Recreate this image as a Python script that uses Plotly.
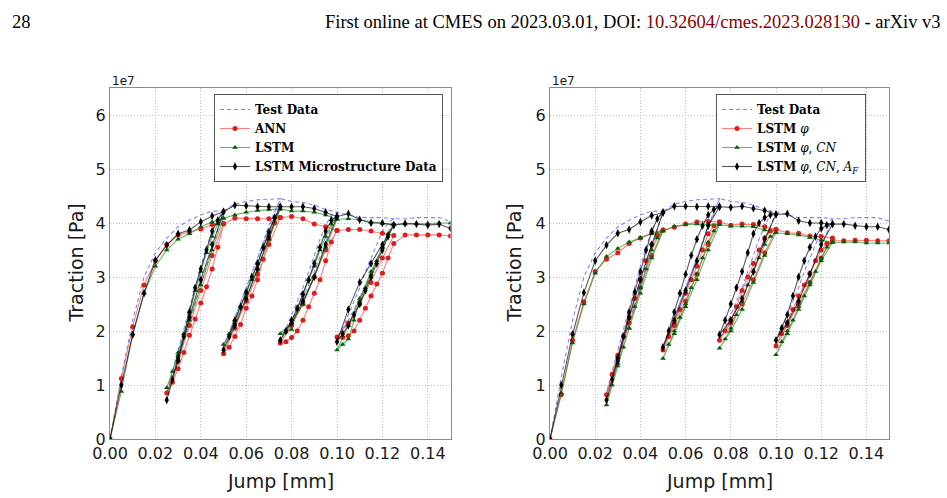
import plotly.graph_objects as go

# Jump [mm] sequence (load / unload / reload cycles), shared by all series
jump_mm = [
    0.0, 0.005, 0.01, 0.015, 0.02, 0.025, 0.03, 0.035, 0.04, 0.045, 0.05,
    0.045, 0.04, 0.035, 0.03, 0.025,
    0.0275, 0.03, 0.0325, 0.035, 0.0375, 0.04, 0.0425, 0.045, 0.0475, 0.05,
    0.055, 0.06, 0.065, 0.07, 0.075,
    0.07, 0.065, 0.06, 0.055, 0.05,
    0.0525, 0.055, 0.0575, 0.06, 0.0625, 0.065, 0.0675, 0.07, 0.0725, 0.075,
    0.08, 0.085, 0.09, 0.095, 0.1,
    0.095, 0.09, 0.085, 0.08, 0.075,
    0.0775, 0.08, 0.0825, 0.085, 0.0875, 0.09, 0.0925, 0.095, 0.0975, 0.1,
    0.105, 0.11, 0.115, 0.12, 0.125,
    0.12, 0.115, 0.11, 0.105, 0.1,
    0.1025, 0.105, 0.1075, 0.11, 0.1125, 0.115, 0.1175, 0.12, 0.1225, 0.125,
    0.13, 0.135, 0.14, 0.145, 0.15,
]

# Traction values in units of 1e7 Pa
test_data = [
    0.0, 1.15, 2.2, 3.0, 3.45, 3.72, 3.93, 4.05, 4.15, 4.22, 4.22,
    3.55, 2.85, 2.15, 1.5, 0.85,
    1.25, 1.65, 2.05, 2.45, 2.85, 3.2, 3.55, 3.85, 4.08, 4.22,
    4.35, 4.4, 4.43, 4.44, 4.45,
    3.95, 3.35, 2.8, 2.25, 1.7,
    1.98, 2.25, 2.52, 2.8, 3.08, 3.36, 3.64, 3.92, 4.2, 4.45,
    4.4, 4.38, 4.33, 4.25, 4.2,
    3.65, 3.1, 2.6, 2.2, 1.85,
    2.05, 2.3, 2.55, 2.8, 3.1, 3.4, 3.7, 3.95, 4.15, 4.2,
    4.15, 4.1, 4.1, 4.1, 4.08,
    3.55, 3.05, 2.6, 2.2, 1.85,
    2.05, 2.3, 2.55, 2.8, 3.1, 3.35, 3.6, 3.85, 4.0, 4.08,
    4.08, 4.1, 4.1, 4.1, 4.03,
]

# Left panel
ann = [
    0.0, 1.12, 2.08, 2.85, 3.3, 3.6, 3.78, 3.84, 3.89, 3.97, 3.99,
    3.4, 2.75, 2.1, 1.45, 0.85,
    1.05, 1.3, 1.6, 1.92, 2.22, 2.52, 2.82, 3.15, 3.55, 3.98,
    4.09, 4.08, 4.08, 4.08, 4.1,
    3.6, 3.05, 2.55, 2.05, 1.58,
    1.7, 1.9, 2.12, 2.42, 2.65, 2.95, 3.33, 3.7, 4.0, 4.1,
    4.12, 4.08, 3.98, 3.93, 3.86,
    3.5, 3.0, 2.5, 2.1, 1.78,
    1.8, 1.88, 2.0, 2.2, 2.45, 2.7, 2.95, 3.3, 3.65, 3.86,
    3.88, 3.88, 3.85, 3.81, 3.77,
    3.35, 2.9, 2.5, 2.15, 1.89,
    1.88, 1.91, 2.0, 2.2, 2.42, 2.65, 2.87, 3.07, 3.35, 3.62,
    3.78, 3.78, 3.78, 3.78, 3.76,
]

lstm = [
    0.0, 0.88, 1.95, 2.7, 3.2, 3.5, 3.7, 3.8, 3.93, 4.02, 4.09,
    3.5, 2.85, 2.2, 1.55, 0.95,
    1.25, 1.6, 1.95, 2.35, 2.75, 3.1, 3.45, 3.75, 3.98, 4.09,
    4.15, 4.2, 4.23, 4.25, 4.26,
    3.7, 3.15, 2.6, 2.15, 1.75,
    1.95, 2.2, 2.45, 2.7, 2.95, 3.25, 3.55, 3.85, 4.1, 4.26,
    4.22, 4.22, 4.2, 4.15, 4.07,
    3.55, 3.0, 2.5, 2.15, 1.95,
    1.98, 2.03, 2.4, 2.7, 2.95, 3.2, 3.5, 3.75, 3.98, 4.07,
    4.08, 4.06, 4.02, 3.99, 3.98,
    3.55, 3.1, 2.6, 2.1, 1.65,
    1.75, 1.85, 2.2, 2.55, 2.8, 3.05, 3.3, 3.55, 3.8, 3.98,
    3.98, 3.99, 3.99, 4.0, 4.0,
]

lstm_micro = [
    0.0, 1.0, 1.93, 2.7, 3.31, 3.59, 3.8, 3.87, 4.02, 4.13, 4.21,
    3.6, 2.95, 2.25, 1.45, 0.72,
    1.1, 1.5, 1.9, 2.35, 2.8, 3.15, 3.5, 3.85, 4.05, 4.21,
    4.33, 4.32, 4.3, 4.3, 4.3,
    3.75, 3.15, 2.6, 2.1, 1.65,
    1.9, 2.2, 2.45, 2.72, 3.0, 3.25, 3.55, 3.82, 4.1, 4.3,
    4.3, 4.3, 4.27, 4.2, 4.12,
    3.6, 3.0, 2.55, 2.15, 1.83,
    2.0, 2.2, 2.42, 2.68, 2.95, 3.25, 3.55, 3.85, 4.05, 4.12,
    4.17, 4.06, 4.0, 4.0, 3.96,
    3.6, 3.25, 2.9, 2.4, 1.8,
    1.95, 2.1, 2.3, 2.5, 2.75, 3.0, 3.25, 3.5, 3.75, 3.96,
    3.99, 3.98, 3.96, 3.98, 3.9,
]

# Right panel
lstm_phi = [
    0.0, 0.82, 1.83, 2.54, 3.1, 3.33, 3.45, 3.62, 3.72, 3.82, 3.87,
    3.4, 2.8, 2.15, 1.5, 0.82,
    1.2, 1.55, 1.9, 2.25, 2.6, 2.95, 3.3, 3.6, 3.78, 3.87,
    3.92, 3.98, 4.02, 4.03, 4.02,
    3.6, 3.05, 2.55, 2.1, 1.65,
    1.9, 2.15, 2.4, 2.7, 2.95, 3.2, 3.5, 3.8, 3.95, 4.02,
    3.96, 3.98, 3.97, 3.93, 3.88,
    3.45, 2.95, 2.5, 2.15, 1.83,
    2.0, 2.2, 2.45, 2.75, 3.0, 3.25, 3.5, 3.72, 3.85, 3.88,
    3.82, 3.81, 3.76, 3.75, 3.72,
    3.35, 2.9, 2.5, 2.1, 1.72,
    1.95, 2.15, 2.4, 2.65, 2.85, 3.07, 3.3, 3.5, 3.62, 3.67,
    3.67, 3.68, 3.68, 3.67, 3.67,
]

lstm_phi_cn = [
    0.0, 0.85, 1.78, 2.5, 3.07, 3.38, 3.53, 3.65, 3.72, 3.8, 3.85,
    3.35, 2.7, 2.05, 1.4, 0.63,
    1.0, 1.35, 1.7, 2.05, 2.45, 2.8, 3.15, 3.5, 3.72, 3.85,
    3.94, 3.97, 3.98, 3.97, 3.97,
    3.5, 2.95, 2.45, 1.95, 1.49,
    1.75, 2.0, 2.25, 2.5, 2.8, 3.05, 3.35, 3.65, 3.85, 3.97,
    3.94, 3.94, 3.93, 3.87, 3.82,
    3.4, 2.9, 2.4, 2.0, 1.68,
    1.85, 2.05, 2.3, 2.55, 2.85, 3.1, 3.35, 3.6, 3.75, 3.82,
    3.8, 3.78, 3.73, 3.68, 3.64,
    3.3, 2.85, 2.4, 1.95, 1.56,
    1.8, 2.0, 2.2, 2.45, 2.65, 2.9, 3.1, 3.35, 3.55, 3.64,
    3.65, 3.65, 3.63, 3.63, 3.63,
]

lstm_phi_cn_af = [
    0.0, 1.0, 1.94, 2.71, 3.3, 3.59, 3.81, 3.88, 4.02, 4.14, 4.19,
    3.6, 2.95, 2.25, 1.45, 0.72,
    1.1, 1.5, 1.9, 2.35, 2.72, 3.1, 3.5, 3.85, 4.08, 4.2,
    4.31, 4.31, 4.3, 4.31, 4.3,
    3.95, 3.3, 2.75, 2.2, 1.7,
    2.0, 2.35, 2.7, 3.05, 3.4, 3.7, 3.95, 4.15, 4.25, 4.3,
    4.29, 4.31, 4.27, 4.23, 4.16,
    3.7, 3.1, 2.6, 2.2, 1.93,
    2.2, 2.5, 2.8, 3.1, 3.45, 3.8, 4.0, 4.1, 4.15, 4.16,
    4.17, 4.04, 4.0, 4.0, 3.98,
    3.6, 3.05, 2.55, 2.15, 1.83,
    2.05, 2.3, 2.65, 3.0, 3.3, 3.55, 3.75, 3.9, 3.96, 3.98,
    3.98, 3.95, 3.93, 3.93, 3.88,
]

x_ticks = [0.0, 0.02, 0.04, 0.06, 0.08, 0.10, 0.12, 0.14]
y_ticks = [0, 1, 2, 3, 4, 5, 6]

left_names = ["<b>Test Data</b>", "<b>ANN</b>", "<b>LSTM</b>", "<b>LSTM Microstructure Data</b>"]
right_names = ["<b>Test Data</b>", "<b>LSTM</b> <i>φ</i>", "<b>LSTM</b> <i>φ</i>, <i>CN</i>",
               "<b>LSTM</b> <i>φ</i>, <i>CN</i>, <i>A<sub>F</sub></i>"]

TEST_LINE = "rgba(80,80,255,0.7)"
RED_LINE, RED_MK = "rgba(255,40,40,0.6)", "#dd1c1c"
GRN_LINE, GRN_MK = "rgba(20,140,20,0.65)", "#0a5c0a"
BLK_LINE, BLK_MK = "rgba(0,0,0,0.65)", "#000000"

fig = go.Figure()

def add_panel(series, names, xa, ya, legend):
    fig.add_trace(go.Scatter(x=jump_mm, y=test_data, mode="lines", name=names[0],
                             line=dict(color=TEST_LINE, width=1.1, dash="4px,3px"),
                             xaxis=xa, yaxis=ya, legend=legend))
    styles = [
        (RED_LINE, RED_MK, "circle", 5),
        (GRN_LINE, GRN_MK, "triangle-up", 5),
        (BLK_LINE, BLK_MK, "diamond-tall", 6),
    ]
    for s, nm, (lc, mc, sym, sz) in zip(series, names[1:], styles):
        fig.add_trace(go.Scatter(x=jump_mm, y=s, mode="lines+markers", name=nm,
                                 line=dict(color=lc, width=1.1),
                                 marker=dict(color=mc, symbol=sym, size=sz, line=dict(width=0)),
                                 xaxis=xa, yaxis=ya, legend=legend))

add_panel([ann, lstm, lstm_micro], left_names, "x", "y", "legend")
add_panel([lstm_phi, lstm_phi_cn, lstm_phi_cn_af], right_names, "x2", "y2", "legend2")

W, H = 947, 498
ydom = [1 - 439 / H, 1 - 88 / H]
axis_common = dict(showline=True, mirror=True, linecolor="#8a8a8a", linewidth=1.2,
                   showgrid=True, gridcolor="#bdbdbd", griddash="1px,2px", gridwidth=1,
                   zeroline=False, ticks="", automargin=False,
                   tickfont=dict(family="DejaVu Sans", size=16, color="#1a1a1a"))

legend_common = dict(xanchor="left", yanchor="top", bgcolor="white",
                     bordercolor="#555555", borderwidth=1,
                     font=dict(family="DejaVu Serif", size=12, color="black"),
                     tracegroupgap=0, itemwidth=30)

fig.update_layout(
    width=W, height=H, autosize=False,
    margin=dict(l=0, r=0, t=0, b=0),
    paper_bgcolor="white", plot_bgcolor="white",
    xaxis=dict(domain=[110 / W, 450.5 / W], range=[0, 0.15], tickvals=x_ticks,
               tickformat=".2f", anchor="y", **axis_common),
    yaxis=dict(domain=ydom, range=[0, 6.5], tickvals=y_ticks, anchor="x", **axis_common),
    xaxis2=dict(domain=[550 / W, 889 / W], range=[0, 0.15], tickvals=x_ticks,
                tickformat=".2f", anchor="y2", **axis_common),
    yaxis2=dict(domain=ydom, range=[0, 6.5], tickvals=y_ticks, anchor="x2", **axis_common),
    legend=dict(x=214 / W, y=1 - 94 / H, **legend_common),
    legend2=dict(x=716 / W, y=1 - 94 / H, **legend_common),
    showlegend=True,
)

annots = [
    dict(text="28", x=10 / W, y=1 - 22 / H, xanchor="left", yanchor="middle",
         font=dict(family="Liberation Serif", size=18.5, color="black")),
    dict(text='First online at CMES on 2023.03.01, DOI: '
              '<span style="color:#8b0000">10.32604/cmes.2023.028130</span> - arXiv v3',
         x=943 / W, y=1 - 22 / H, xanchor="right", yanchor="middle",
         font=dict(family="Liberation Serif", size=18.5, color="black")),
    dict(text="1e7", x=110 / W, y=1 - 81 / H, xanchor="left", yanchor="middle",
         font=dict(family="DejaVu Sans", size=12, color="#1a1a1a")),
    dict(text="1e7", x=550 / W, y=1 - 81 / H, xanchor="left", yanchor="middle",
         font=dict(family="DejaVu Sans", size=12, color="#1a1a1a")),
    dict(text="Jump [mm]", x=280 / W, y=1 - 481 / H, xanchor="center", yanchor="middle",
         font=dict(family="DejaVu Sans", size=19, color="#1a1a1a")),
    dict(text="Jump [mm]", x=719.5 / W, y=1 - 481 / H, xanchor="center", yanchor="middle",
         font=dict(family="DejaVu Sans", size=19, color="#1a1a1a")),
    dict(text="Traction [Pa]", x=75 / W, y=1 - 263.5 / H, xanchor="center", yanchor="middle",
         textangle=-90, font=dict(family="DejaVu Sans", size=19, color="#1a1a1a")),
    dict(text="Traction [Pa]", x=513 / W, y=1 - 263.5 / H, xanchor="center", yanchor="middle",
         textangle=-90, font=dict(family="DejaVu Sans", size=19, color="#1a1a1a")),
]
for a in annots:
    a.update(xref="paper", yref="paper", showarrow=False)
fig.update_layout(annotations=annots)

fig.write_html("out.html")
